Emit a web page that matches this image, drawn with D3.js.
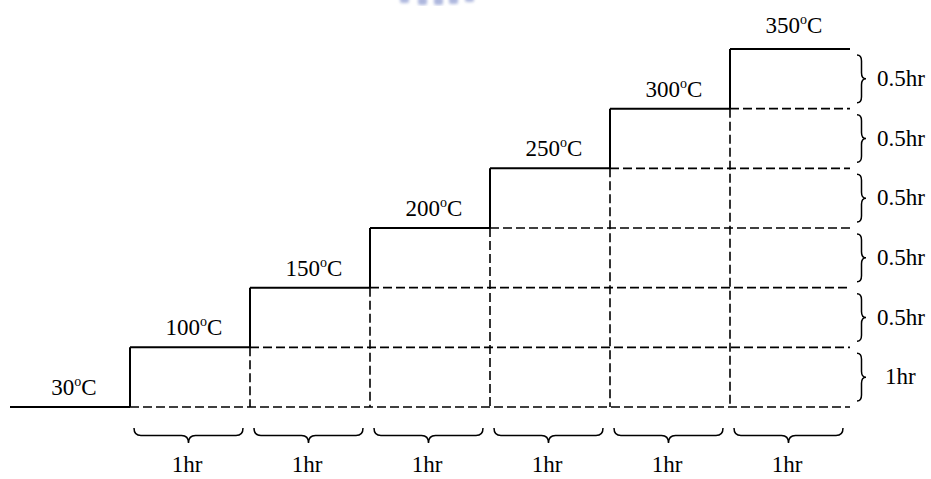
<!DOCTYPE html>
<html>
<head>
<meta charset="utf-8">
<script src="https://cdn.jsdelivr.net/npm/d3@7"></script>
<style>
  html, body { margin: 0; padding: 0; background: #fff; }
  svg { display: block; }
  text { font-family: "Liberation Serif", "Times New Roman", serif; fill: #000; }
</style>
</head>
<body>
<svg id="chart" width="931" height="479"></svg>
<script>
// ---- data ----
const temperatures = [30, 100, 150, 200, 250, 300, 350];      // °C, one per level
const stepHours = [1, 1, 1, 1, 1, 1];                           // duration of each heating step (bottom braces)
const bottomLabels = ["1hr", "1hr", "1hr", "1hr", "1hr", "1hr"];
const sideLabels = ["1hr", "0.5hr", "0.5hr", "0.5hr", "0.5hr", "0.5hr"]; // right braces, bottom to top

// ---- layout ----
const svg = d3.select("#chart");

const x = d3.scaleLinear().domain([-1, d3.sum(stepHours)]).range([10, 850]);
const y = d3.scaleLinear().domain([0, temperatures.length - 1]).range([407, 49]);

const starts = [0];
stepHours.forEach((h, i) => starts.push(starts[i] + h));
const endHour = starts[starts.length - 1];

// faint watermark at top (scanned logo remnant)
const defs = svg.append("defs");
defs.append("filter").attr("id", "blur").append("feGaussianBlur").attr("stdDeviation", 1.6);
const wm = svg.append("g").attr("filter", "url(#blur)").attr("fill", "#8c99d0").attr("opacity", 0.7);
[[400, 3], [418, 5], [434, 5], [449, 4], [465, 2]].forEach(([cx, h]) => {
  wm.append("rect").attr("x", cx).attr("y", -4).attr("width", 9).attr("height", h + 4).attr("rx", 2);
});

const solid = svg.append("g").attr("stroke", "#000").attr("stroke-width", 2).attr("fill", "none");
const dashed = svg.append("g").attr("stroke", "#000").attr("stroke-width", 1.6)
  .attr("stroke-dasharray", "9,4").attr("fill", "none");

solid.append("line").attr("x1", x(-1)).attr("x2", x(0)).attr("y1", y(0)).attr("y2", y(0));

temperatures.forEach((t, i) => {
  if (i === 0) return;
  const xs = x(starts[i - 1]);
  const xe = x(starts[i]);
  solid.append("line").attr("x1", xs).attr("x2", xs).attr("y1", y(i - 1)).attr("y2", y(i));
  solid.append("line").attr("x1", xs).attr("x2", xe).attr("y1", y(i)).attr("y2", y(i));
  if (i >= 2) {
    dashed.append("line").attr("x1", xs).attr("x2", xs).attr("y1", y(i - 1)).attr("y2", y(0));
  }
});

temperatures.forEach((t, i) => {
  if (i === temperatures.length - 1) return;
  dashed.append("line").attr("x1", x(starts[i])).attr("x2", x(endHour)).attr("y1", y(i)).attr("y2", y(i));
});

// temperature labels
temperatures.forEach((t, i) => {
  const xa = i === 0 ? x(-1) : x(starts[i - 1]);
  const xb = i === 0 ? x(0) : x(starts[i]);
  const tx = svg.append("text")
    .attr("x", (xa + xb) / 2 + 4)
    .attr("y", y(i) - (i === temperatures.length - 1 ? 16 : 12))
    .attr("text-anchor", "middle")
    .attr("font-size", 23);
  tx.append("tspan").text(String(t));
  tx.append("tspan").attr("font-size", 14).attr("dy", -9).text("o");
  tx.append("tspan").attr("dy", 9).text("C");
});

function hBrace(x1, x2, yTop, h) {
  const m = (x1 + x2) / 2, ym = yTop + h / 2, q = 7;
  return `M${x1},${yTop} Q${x1},${ym} ${x1 + q},${ym} L${m - q},${ym} Q${m},${ym} ${m},${yTop + h}` +
         ` Q${m},${ym} ${m + q},${ym} L${x2 - q},${ym} Q${x2},${ym} ${x2},${yTop}`;
}
function vBrace(y1, y2, xLeft, w) {
  const m = (y1 + y2) / 2, xm = xLeft + w / 2, q = 6;
  return `M${xLeft},${y1} Q${xm},${y1} ${xm},${y1 + q} L${xm},${m - q} Q${xm},${m} ${xLeft + w},${m}` +
         ` Q${xm},${m} ${xm},${m + q} L${xm},${y2 - q} Q${xm},${y2} ${xLeft},${y2}`;
}

const braces = svg.append("g").attr("stroke", "#000").attr("stroke-width", 1.5).attr("fill", "none");

stepHours.forEach((h, i) => {
  const xa = x(starts[i]) + 4, xb = x(starts[i + 1]) - 7;
  braces.append("path").attr("d", hBrace(xa, xb, 428, 15));
  svg.append("text")
    .attr("x", (x(starts[i]) + x(starts[i + 1])) / 2 - 3)
    .attr("y", 472)
    .attr("text-anchor", "middle")
    .attr("font-size", 23)
    .text(bottomLabels[i]);
});

sideLabels.forEach((lab, i) => {
  const ya = y(i + 1) + 6, yb = y(i) - 6;
  braces.append("path").attr("d", vBrace(ya, yb, 857, 9));
  svg.append("text")
    .attr("x", lab === "1hr" ? 885 : 877)
    .attr("y", (ya + yb) / 2 + 7)
    .attr("font-size", 23)
    .text(lab);
});
</script>
</body>
</html>
